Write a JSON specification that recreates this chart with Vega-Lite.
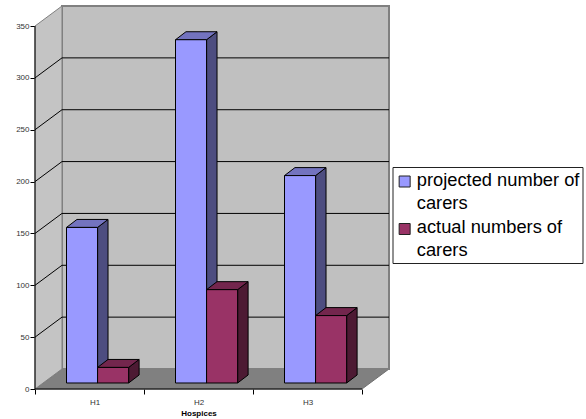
{
  "$schema": "https://vega.github.io/schema/vega-lite/v6.json",
  "width": 354,
  "height": 383,
  "autosize": {"type": "none"},
  "padding": {"left": 35, "top": 6, "right": 197, "bottom": 30},
  "background": "#ffffff",
  "view": {"stroke": null},
  "config": {"font": "Liberation Sans"},
  "params": [
    {"name": "wallX", "value": 0.2477},
    {"name": "wallY", "value": 19.3},
    {"name": "barX", "value": 0.096},
    {"name": "barY", "value": 7.7},
    {"name": "barW", "value": 0.285},
    {"name": "lift", "value": 5.8}
  ],
  "datasets": {
    "carers": [
      {"hospice": "H1", "series": "projected number of carers", "value": 150},
      {"hospice": "H2", "series": "projected number of carers", "value": 331},
      {"hospice": "H3", "series": "projected number of carers", "value": 200},
      {"hospice": "H1", "series": "actual numbers of carers", "value": 15},
      {"hospice": "H2", "series": "actual numbers of carers", "value": 90},
      {"hospice": "H3", "series": "actual numbers of carers", "value": 65}
    ],
    "ticks": [{"v": 50}, {"v": 100}, {"v": 150}, {"v": 200}, {"v": 250}, {"v": 300}],
    "edge": [{"d": 0}, {"d": 1}],
    "frame": [{"top": 350, "cats": 3}]
  },
  "layer": [
    {
      "description": "Floor of the chart box",
      "data": {"name": "edge"},
      "transform": [
        {"calculate": "datum.d * wallX", "as": "xa"},
        {"calculate": "3 + datum.d * wallX", "as": "xb"},
        {"calculate": "datum.d * wallY", "as": "yy"}
      ],
      "mark": {"type": "area", "orient": "horizontal", "fill": "#808080", "stroke": "#707070", "strokeWidth": 1},
      "encoding": {
        "y": {"field": "yy", "type": "quantitative", "scale": {"domain": [0, 369.33], "nice": false, "zero": false},
          "axis": {"values": [0, 50, 100, 150, 200, 250, 300, 350], "title": null, "domain": false, "grid": false, "tickSize": 5, "tickColor": "#000000", "labelFontSize": 8, "labelColor": "#333333", "labelPadding": 1}},
        "x": {"field": "xa", "type": "quantitative", "scale": {"domain": [0, 3.2477], "nice": false, "zero": false},
          "axis": {"values": [0, 1, 2, 3], "title": "Hospices", "domain": false, "grid": false, "tickSize": 5, "tickColor": "#000000", "labelFontSize": 8, "labelColor": "#333333", "labelOffset": 54.5, "labelPadding": 4, "labelExpr": "['H1','H2','H3',''][datum.value]", "titleFontSize": 8, "titleFontWeight": "bold", "titleColor": "#000000", "titleAnchor": "start", "titleX": 163.5, "titleY": 26, "titleAlign": "center", "titleBaseline": "alphabetic"}},
        "x2": {"field": "xb"}
      }
    },
    {
      "description": "Back wall",
      "data": {"name": "frame"},
      "transform": [
        {"calculate": "wallX", "as": "xa"},
        {"calculate": "datum.cats + wallX", "as": "xb"},
        {"calculate": "wallY", "as": "ya"},
        {"calculate": "datum.top + wallY", "as": "yb"}
      ],
      "mark": {"type": "rect", "fill": "#c0c0c0", "stroke": "#808080", "strokeWidth": 2},
      "encoding": {
        "x": {"field": "xa", "type": "quantitative", "scale": {"domain": [0, 3.2477], "nice": false, "zero": false}},
        "x2": {"field": "xb"},
        "y": {"field": "ya", "type": "quantitative", "scale": {"domain": [0, 369.33], "nice": false, "zero": false}},
        "y2": {"field": "yb"}
      }
    },
    {
      "description": "Left side wall",
      "data": {"name": "edge"},
      "transform": [
        {"calculate": "datum.d * wallX", "as": "xx"},
        {"calculate": "datum.d * wallY", "as": "ya"},
        {"calculate": "350 + datum.d * wallY", "as": "yb"}
      ],
      "mark": {"type": "area", "fill": "#c4c4c4", "stroke": "#808080", "strokeWidth": 1},
      "encoding": {
        "x": {"field": "xx", "type": "quantitative", "scale": {"domain": [0, 3.2477], "nice": false, "zero": false}},
        "y": {"field": "ya", "type": "quantitative", "scale": {"domain": [0, 369.33], "nice": false, "zero": false}},
        "y2": {"field": "yb"}
      }
    },
    {
      "description": "Gridlines running across the side wall",
      "data": {"name": "ticks"},
      "transform": [
        {"calculate": "[0, 1]", "as": "d"},
        {"flatten": ["d"]},
        {"calculate": "datum.d * wallX", "as": "xx"},
        {"calculate": "datum.v + datum.d * wallY", "as": "yy"}
      ],
      "mark": {"type": "line", "stroke": "#000000", "strokeWidth": 1},
      "encoding": {
        "x": {"field": "xx", "type": "quantitative", "scale": {"domain": [0, 3.2477], "nice": false, "zero": false}},
        "y": {"field": "yy", "type": "quantitative", "scale": {"domain": [0, 369.33], "nice": false, "zero": false}},
        "detail": {"field": "v"}
      }
    },
    {
      "description": "Gridlines on the back wall",
      "data": {"name": "ticks"},
      "transform": [
        {"calculate": "wallX", "as": "xa"},
        {"calculate": "3 + wallX", "as": "xb"},
        {"calculate": "datum.v + wallY", "as": "yy"}
      ],
      "mark": {"type": "rule", "stroke": "#000000", "strokeWidth": 1},
      "encoding": {
        "x": {"field": "xa", "type": "quantitative", "scale": {"domain": [0, 3.2477], "nice": false, "zero": false}},
        "x2": {"field": "xb"},
        "y": {"field": "yy", "type": "quantitative", "scale": {"domain": [0, 369.33], "nice": false, "zero": false}}
      }
    },
    {
      "description": "Value axis line",
      "data": {"name": "frame"},
      "transform": [
        {"calculate": "0", "as": "origin"}
      ],
      "mark": {"type": "rule", "stroke": "#000000", "strokeWidth": 1},
      "encoding": {
        "x": {"field": "origin", "type": "quantitative", "scale": {"domain": [0, 3.2477], "nice": false, "zero": false}},
        "y": {"field": "origin", "type": "quantitative", "scale": {"domain": [0, 369.33], "nice": false, "zero": false}},
        "y2": {"field": "top"}
      }
    },
    {
      "description": "Category axis line",
      "data": {"name": "frame"},
      "transform": [
        {"calculate": "0", "as": "origin"}
      ],
      "mark": {"type": "rule", "stroke": "#000000", "strokeWidth": 1},
      "encoding": {
        "x": {"field": "origin", "type": "quantitative", "scale": {"domain": [0, 3.2477], "nice": false, "zero": false}},
        "x2": {"field": "cats"},
        "y": {"field": "origin", "type": "quantitative", "scale": {"domain": [0, 369.33], "nice": false, "zero": false}}
      }
    },
    {
      "description": "Shaded right side of each column",
      "data": {"name": "carers"},
      "transform": [
        {"calculate": "indexof(['H1','H2','H3'], datum.hospice)", "as": "cat"},
        {"calculate": "datum.series === 'projected number of carers' ? 0 : 1", "as": "slot"},
        {"calculate": "[0, 1]", "as": "d"},
        {"flatten": ["d"]},
        {"calculate": "datum.cat + 0.289 + (datum.slot + 1) * barW + datum.d * barX", "as": "xx"},
        {"calculate": "lift + datum.d * barY", "as": "ya"},
        {"calculate": "lift + datum.value + datum.d * barY", "as": "yb"}
      ],
      "mark": {"type": "area", "stroke": "#000000", "strokeWidth": 1},
      "encoding": {
        "x": {"field": "xx", "type": "quantitative", "scale": {"domain": [0, 3.2477], "nice": false, "zero": false}},
        "y": {"field": "ya", "type": "quantitative", "scale": {"domain": [0, 369.33], "nice": false, "zero": false}},
        "y2": {"field": "yb"},
        "detail": {"field": "hospice"},
        "fill": {"field": "series", "type": "nominal", "legend": null,
          "scale": {"domain": ["projected number of carers", "actual numbers of carers"], "range": ["#4d4d80", "#4d1a33"]}}
      }
    },
    {
      "description": "Top face of each column",
      "data": {"name": "carers"},
      "transform": [
        {"calculate": "indexof(['H1','H2','H3'], datum.hospice)", "as": "cat"},
        {"calculate": "datum.series === 'projected number of carers' ? 0 : 1", "as": "slot"},
        {"calculate": "[0, 1]", "as": "d"},
        {"flatten": ["d"]},
        {"calculate": "datum.cat + 0.289 + datum.slot * barW + datum.d * barX", "as": "xa"},
        {"calculate": "datum.cat + 0.289 + (datum.slot + 1) * barW + datum.d * barX", "as": "xb"},
        {"calculate": "lift + datum.value + datum.d * barY", "as": "yy"}
      ],
      "mark": {"type": "area", "orient": "horizontal", "stroke": "#000000", "strokeWidth": 1},
      "encoding": {
        "x": {"field": "xa", "type": "quantitative", "scale": {"domain": [0, 3.2477], "nice": false, "zero": false}},
        "x2": {"field": "xb"},
        "y": {"field": "yy", "type": "quantitative", "scale": {"domain": [0, 369.33], "nice": false, "zero": false}},
        "detail": {"field": "hospice"},
        "fill": {"field": "series", "type": "nominal", "legend": null,
          "scale": {"domain": ["projected number of carers", "actual numbers of carers"], "range": ["#7373bf", "#73264d"]}}
      }
    },
    {
      "description": "Front face of each column, with the legend",
      "data": {"name": "carers"},
      "transform": [
        {"calculate": "indexof(['H1','H2','H3'], datum.hospice)", "as": "cat"},
        {"calculate": "datum.series === 'projected number of carers' ? 0 : 1", "as": "slot"},
        {"calculate": "datum.cat + 0.289 + datum.slot * barW", "as": "xa"},
        {"calculate": "datum.xa + barW", "as": "xb"},
        {"calculate": "lift", "as": "ya"},
        {"calculate": "lift + datum.value", "as": "yb"}
      ],
      "mark": {"type": "rect", "stroke": "#000000", "strokeWidth": 1},
      "encoding": {
        "x": {"field": "xa", "type": "quantitative", "scale": {"domain": [0, 3.2477], "nice": false, "zero": false}},
        "x2": {"field": "xb"},
        "y": {"field": "ya", "type": "quantitative", "scale": {"domain": [0, 369.33], "nice": false, "zero": false}},
        "y2": {"field": "yb"},
        "fill": {"field": "series", "type": "nominal",
          "scale": {"domain": ["projected number of carers", "actual numbers of carers"], "range": ["#9999ff", "#993366"]},
          "legend": {
            "title": null,
            "orient": "none",
            "legendX": 357.5,
            "legendY": 161,
            "fillColor": "#ffffff",
            "strokeColor": "#222222",
            "padding": 3,
            "symbolType": "square",
            "symbolSize": 121,
            "symbolStrokeColor": "#222222",
            "symbolStrokeWidth": 1,
            "labelFontSize": 18.3,
            "labelColor": "#000000",
            "labelLimit": 200,
            "labelOffset": 3,
            "rowPadding": 5.5,
            "labelExpr": "[slice(datum.label, 0, -7), 'carers']",
            "encode": {
              "labels": {"update": {"lineHeight": {"value": 23}, "dy": {"value": 1.5}}},
              "symbols": {"update": {"y": {"value": 11.5}}}
            }
          }
        }
      }
    }
  ],
  "resolve": {"scale": {"fill": "independent"}}
}
